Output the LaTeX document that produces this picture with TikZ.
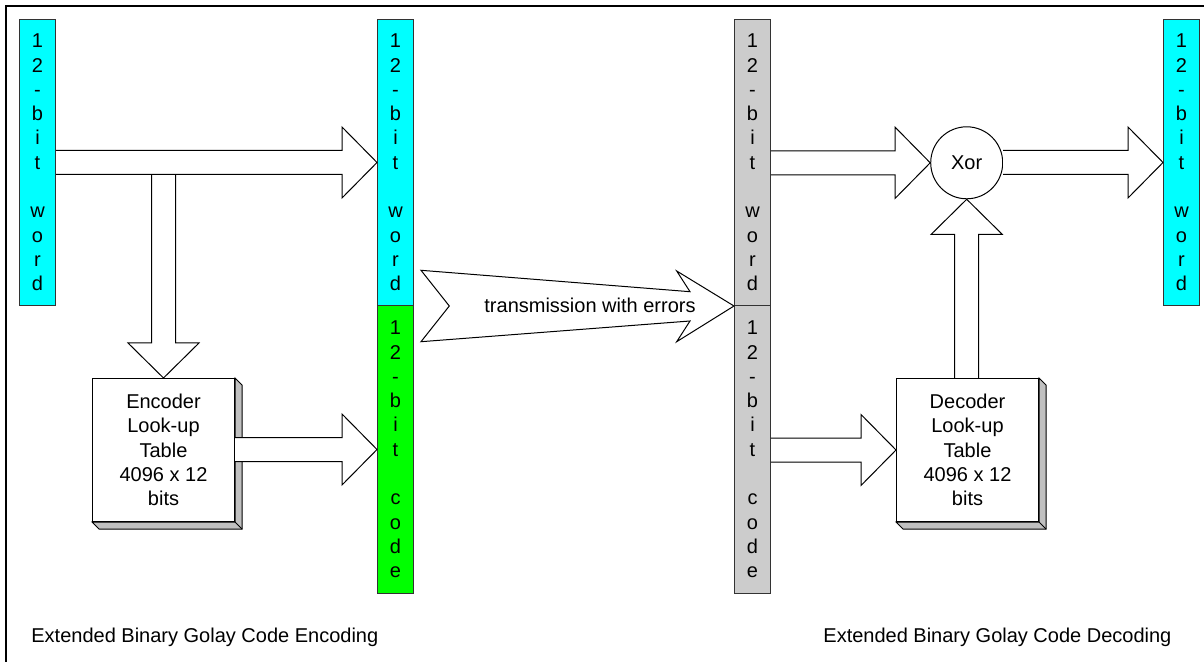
\documentclass[tikz,border=0pt]{standalone}
\usepackage{fontspec}
\setmainfont{Liberation Sans}
\usetikzlibrary{calc}
\usetikzlibrary{positioning}
\tikzset{bar/.style = {draw = black!80, line width = 0.5pt, minimum width = 18pt, inner sep = 0, align = center}}
\tikzset{wordbar/.style = {bar, minimum height = 143pt}}
\tikzset{codebar/.style = {bar, minimum height = 144pt}}
\tikzset{lutbox/.style = {draw, fill = white, line width = 0.5pt, minimum width = 71pt, minimum height = 71.5pt, inner sep = 0, align = center}}
\tikzset{blockarrow/.style = {draw, fill = white, line width = 0.5pt, line join = miter}}
\definecolor{wcyan}{RGB}{0, 255, 255}
\definecolor{cgreen}{RGB}{0, 255, 0}
\definecolor{rxgrey}{RGB}{204, 204, 204}
\definecolor{shadegrey}{RGB}{192, 192, 192}
\newcommand{\wordtext}{1\\2\\-\\b\\i\\t\\[12.15pt]w\\o\\r\\d}
\newcommand{\codetext}{1\\2\\-\\b\\i\\t\\[12.15pt]c\\o\\d\\e}
% hollow arrows, from #1 to #2
\newcommand{\blockright}[2]{
  \draw [blockarrow] let \p1 = (#1), \p2 = (#2) in
    (\x1, \y2 + 6pt) -- (\x2 - 17.5pt, \y2 + 6pt) -- (\x2 - 17.5pt, \y2 + 17.75pt) -- (\x2, \y2)
    -- (\x2 - 17.5pt, \y2 - 17.75pt) -- (\x2 - 17.5pt, \y2 - 6pt) -- (\x1, \y2 - 6pt);
}
\newcommand{\blockdown}[2]{
  \draw [blockarrow] let \p1 = (#1), \p2 = (#2) in
    (\x2 - 6pt, \y1) -- (\x2 - 6pt, \y2 + 17.5pt) -- (\x2 - 17.75pt, \y2 + 17.5pt) -- (\x2, \y2)
    -- (\x2 + 17.75pt, \y2 + 17.5pt) -- (\x2 + 6pt, \y2 + 17.5pt) -- (\x2 + 6pt, \y1);
}
\newcommand{\blockup}[2]{
  \draw [blockarrow] let \p1 = (#1), \p2 = (#2) in
    (\x2 - 6pt, \y1) -- (\x2 - 6pt, \y2 - 17.5pt) -- (\x2 - 17.75pt, \y2 - 17.5pt) -- (\x2, \y2)
    -- (\x2 + 17.75pt, \y2 - 17.5pt) -- (\x2 + 6pt, \y2 - 17.5pt) -- (\x2 + 6pt, \y1);
}
\newcommand{\boxshadow}[1]{
  \filldraw [fill = shadegrey, line width = 0.5pt] (#1.north east) -- ++(7, 7) -- ([shift = {(7, 7)}]#1.south east)
    -- ([shift = {(7, 7)}]#1.south west) -- (#1.south west) -- (#1.south east) -- cycle;
  \draw [line width = 0.5pt] (#1.south east) -- ++(7, 7);
}

\begin{document}
\begin{tikzpicture}[x = 0.5pt, y = -0.5pt, font = \fontsize{10}{12.15}\selectfont]
    \useasboundingbox (0, 0) rectangle (1204, 662);
    \draw [line width = 1pt] (6, 662) -- (6, 6) -- (1204, 6);

    % encoding
    \node [wordbar, fill = wcyan, anchor = north west] (dataword) at (19, 19) {\wordtext};
    \node [wordbar, fill = wcyan, anchor = north west] (txword) at (377, 19) {\wordtext};
    \node [codebar, fill = cgreen, below = -0.5pt of txword] (txcode) {\codetext};
    \node [lutbox, anchor = north west] (enc) at (92, 378) {Encoder\\Look-up\\Table\\4096 x 12\\bits};
    \boxshadow{enc}
    \path (dataword.east -| enc.north) ++(0, 12) coordinate (split);
    \blockdown{split}{enc.north}
    \blockright{dataword.east}{txword.west}
    \blockright{enc.east}{txcode.west}

    % channel
    \node [wordbar, fill = rxgrey, anchor = north west] (rxword) at (734, 19) {\wordtext};
    \node [codebar, fill = rxgrey, below = -0.5pt of rxword] (rxcode) {\codetext};
    \draw [blockarrow] let \p1 = (txword.south east), \p2 = (rxword.south west) in
      (\x1 + 3.5pt, \y1 + 17.85pt) -- (\x2 - 22pt, \y2 + 7.15pt) -- (\x2 - 28.65pt, \y2 + 17.5pt) -- (\x2, \y2)
      -- (\x2 - 28.65pt, \y2 - 17.85pt) -- (\x2 - 22pt, \y2 - 7.5pt) -- (\x1 + 3.5pt, \y1 - 17.85pt)
      -- (\x1 + 17.65pt, \y1) -- cycle;
    \node (txlabel) at (590, 305) {transmission with errors};

    % decoding
    \node [wordbar, fill = wcyan, anchor = north west] (outword) at (1163, 19) {\wordtext};
    \node [draw, circle, line width = 0.5pt, minimum size = 36pt, inner sep = 0] (xor) at (966.7, 162.8) {Xor};
    \node [lutbox, anchor = north west] (dec) at (896, 378) {Decoder\\Look-up\\Table\\4096 x 12\\bits};
    \boxshadow{dec}
    \blockright{rxword.east}{xor.west}
    \blockright{xor.east}{outword.west}
    \blockright{rxcode.east}{dec.west}
    \blockup{dec.north}{xor.south}

    \node [anchor = base west, inner sep = 0] (enccaption) at (31, 642) {Extended Binary Golay Code Encoding};
    \node [anchor = base west, inner sep = 0] (deccaption) at (823, 642) {Extended Binary Golay Code Decoding};
  \end{tikzpicture}
\end{document}
